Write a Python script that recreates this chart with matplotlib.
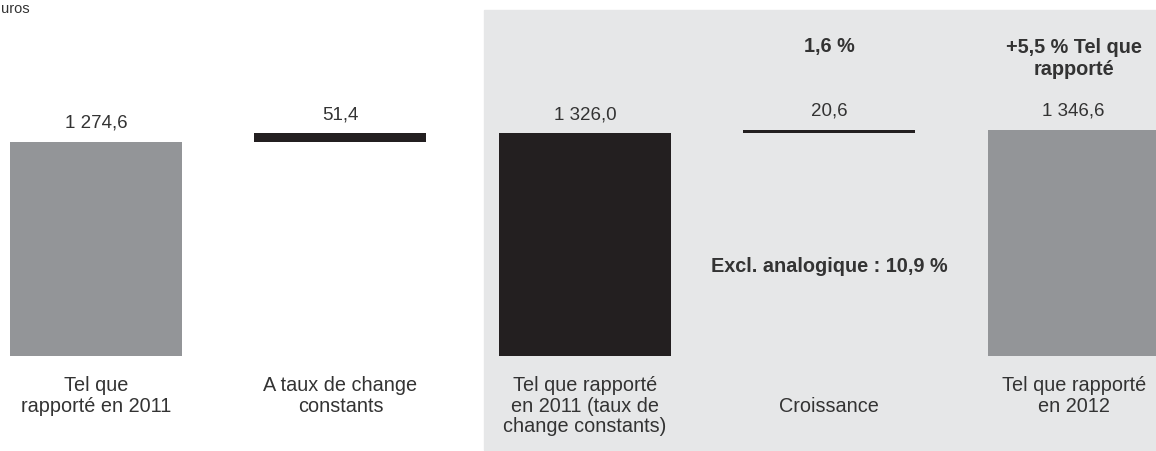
import numpy as np
import matplotlib.pyplot as plt
import matplotlib.patches as patches

# données (millions d'euros)
categories = ["Tel que\nrapporté en 2011", "A taux de change\nconstants",
              "Tel que rapporté\nen 2011 (taux de\nchange constants)", "Croissance",
              "Tel que rapporté\nen 2012"]
valeurs = [1274.6, 51.4, 1326.0, 20.6, 1346.6]
est_total = [True, False, True, False, True]
etiquettes = ["1 274,6", "51,4", "1 326,0", "20,6", "1 346,6"]
couleurs = ["#939598", "#231f20", "#231f20", "#231f20", "#939598"]
croissance_txt = "1,6 %"
rapporte_txt = "+5,5 % Tel que\nrapporté"
excl_txt = "Excl. analogique : 10,9 %"
unite = "uros"

police = "Liberation Sans"
texte = "#333333"

fig = plt.figure(figsize=(11.56, 4.51), dpi=100)
ax = fig.add_axes([0, 0, 1, 1])
ax.set_xlim(-0.393, 4.337)
ax.set_ylim(-568, 2121)
ax.axis("off")

# zone grisée
ax.add_patch(patches.Rectangle((484 / 1156, 1 / 451), 1, 440 / 451,
                               transform=ax.transAxes, color="#e6e7e8", zorder=0))

# cascade
bas = []
cumul = 0
for v, tot in zip(valeurs, est_total):
    if tot:
        bas.append(0)
        cumul = v
    else:
        bas.append(cumul)
        cumul += v
x = np.arange(len(valeurs))
ax.bar(x, valeurs, bottom=bas, width=0.704, color=couleurs, zorder=2)

trans = ax.get_xaxis_transform()
n_max = max(c.count("\n") + 1 for c in categories)
for i in range(len(valeurs)):
    haut = bas[i] + valeurs[i]
    ax.annotate(etiquettes[i], (x[i], haut), xytext=(0, 14), textcoords="offset pixels",
                ha="center", va="baseline", fontsize=13.5, family=police, color=texte)
    n = categories[i].count("\n") + 1
    decal = (n_max - n) // 2 * 20.5
    ax.annotate(categories[i], (x[i], (451 - 376) / 451), xycoords=trans,
                xytext=(0, -decal), textcoords="offset pixels",
                ha="center", va="top", fontsize=14.3, family=police, color=texte, linespacing=1.1)

ax.text(x[3], (451 - 52) / 451, croissance_txt, transform=trans,
        ha="center", va="baseline", fontsize=14.3, family=police, weight="bold", color=texte)
ax.text(x[4], (451 - 38) / 451, rapporte_txt, transform=trans,
        ha="center", va="top", fontsize=14.3, family=police, weight="bold", color=texte,
        linespacing=1.22)
ax.text(x[3], (451 - 266) / 451, excl_txt, transform=trans,
        ha="center", va="center", fontsize=14.3, family=police, weight="bold", color=texte)

fig.text(0.5 / 1156, 1 - 2 / 451, unite, ha="left", va="top", fontsize=10.5, family=police, color=texte)

fig.savefig("out.png", dpi=100)
